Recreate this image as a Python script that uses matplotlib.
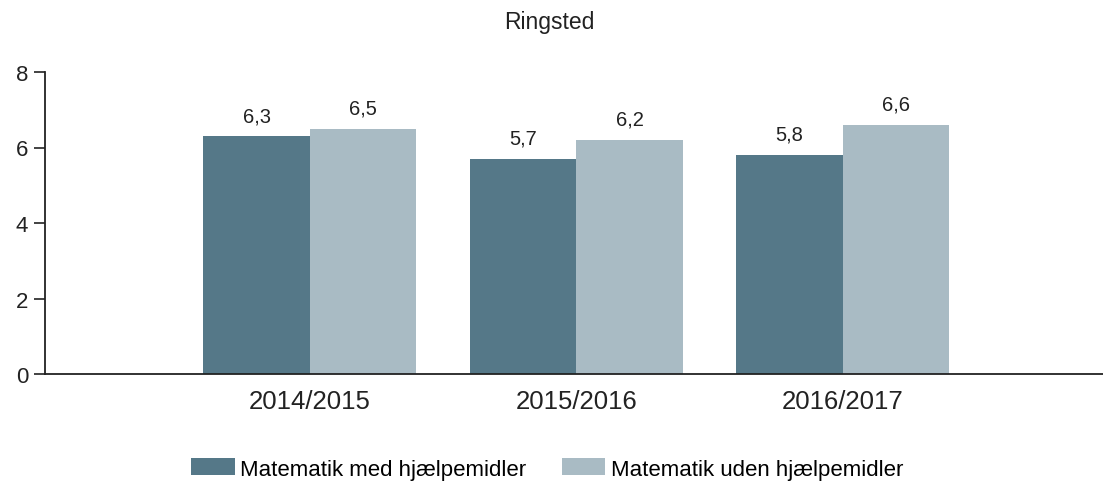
import numpy as np
import matplotlib
matplotlib.use("Agg")
import matplotlib.pyplot as plt

plt.rcParams["font.family"] = ["Liberation Sans", "DejaVu Sans"]

title = "Ringsted"
years = ["2014/2015", "2015/2016", "2016/2017"]
series_names = ["Matematik med hjælpemidler", "Matematik uden hjælpemidler"]
med = [6.3, 5.7, 5.8]
uden = [6.5, 6.2, 6.6]
colors = ["#557888", "#a9bbc4"]

fig = plt.figure(figsize=(11.03, 4.85), dpi=100)
ax = fig.add_axes([45 / 1103, 110 / 485, 1 - 45 / 1103, 302 / 485])

x = np.arange(len(years))
w = 0.4
for i, (vals, name) in enumerate(zip([med, uden], series_names)):
    bars = ax.bar(x + (i - 0.5) * w, vals, width=w, color=colors[i], label=name)
    ax.bar_label(bars, labels=[f"{v:.1f}".replace(".", ",") for v in vals],
                 padding=8, fontsize=14.5, color="#222222")

ax.set_xlim(-0.994, 2.976)
ax.set_ylim(0, 8)
ax.set_yticks([0, 2, 4, 6, 8])
ax.set_xticks(x)
ax.set_xticklabels(years, fontsize=18.5, color="#222222")
ax.tick_params(axis="x", length=0, pad=11)
ax.tick_params(axis="y", length=8, width=1.2, labelsize=16, colors="#222222", pad=4)
for s in ["top", "right"]:
    ax.spines[s].set_visible(False)
for s in ["left", "bottom"]:
    ax.spines[s].set_color("#222222")
    ax.spines[s].set_linewidth(1.3)

fig.text(0.498, 1 - 22 / 485, title, ha="center", va="center", fontsize=16.5, color="#222222")
fig.legend(loc="center", bbox_to_anchor=(0.496, 1 - 470 / 485), ncol=2, frameon=False,
           fontsize=16, handlelength=1.95, handleheight=0.78, handletextpad=0.25,
           columnspacing=1.6)

fig.savefig("out.png", dpi=100)
